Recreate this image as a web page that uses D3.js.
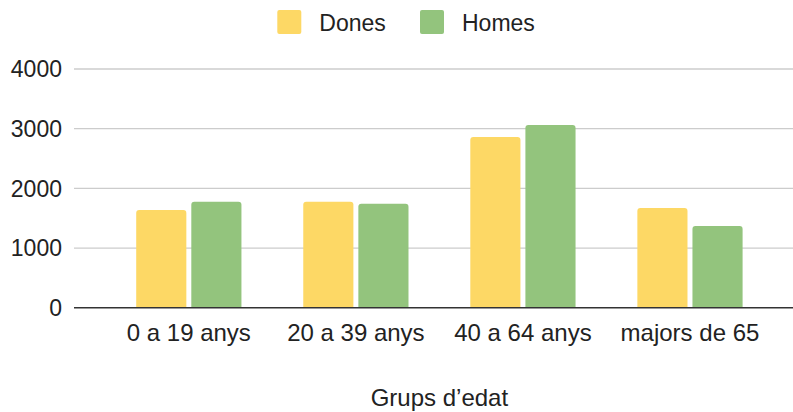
<!DOCTYPE html>
<html>
<head>
<meta charset="utf-8">
<script src="https://cdn.jsdelivr.net/npm/d3@7.9.0/dist/d3.min.js"></script>
<style>
  body { margin: 0; background: #fff; }
  svg { display: block; font-family: "Liberation Sans", Arial, sans-serif; }
</style>
</head>
<body>
<div id="chart"></div>
<script>
// values
const groups = ['0 a 19 anys', '20 a 39 anys', '40 a 64 anys', 'majors de 65'];
const series = ['Dones', 'Homes'];
const dones = [1637, 1776, 2859, 1670];
const homes = [1776, 1742, 3060, 1368];
const yTickValues = [0, 1000, 2000, 3000, 4000];
const colors = ['#fdd865', '#93c47d'];
const xTitle = 'Grups d\u2019edat';

const width = 793;
const height = 412;

const svg = d3
  .select('#chart')
  .append('svg')
  .attr('width', width)
  .attr('height', height);

const plot = { left: 74, right: 793, top: 69, bottom: 307.7 };

const xScale = d3.scaleBand().domain(groups).range([105.3, 773.5]).padding(0);
const groupWidth = xScale.bandwidth() * 0.63;
const inner = d3.scaleBand().domain(series).range([0, groupWidth]).paddingInner(0.09);
const yScale = d3.scaleLinear().domain([0, 4000]).range([plot.bottom, plot.top]);

// gridlines
const grid = svg.append('g').attr('class', 'gridlines');
grid.selectAll('line')
  .data(yTickValues.filter(d => d > 0))
  .join('line')
  .attr('x1', plot.left)
  .attr('x2', plot.right)
  .attr('y1', d => yScale(d))
  .attr('y2', d => yScale(d))
  .attr('stroke', '#cccccc')
  .attr('stroke-width', 1.3);

// y axis labels
const yAxis = d3.axisLeft(yScale)
  .tickValues(yTickValues)
  .tickFormat(d3.format('d'))
  .tickSize(0)
  .tickPadding(12);
svg.append('g')
  .attr('transform', `translate(${plot.left}, 0)`)
  .call(yAxis)
  .call(g => g.select('.domain').remove())
  .selectAll('text')
  .attr('font-size', 23)
  .attr('font-family', '"Liberation Sans", Arial, sans-serif')
  .attr('fill', '#222')
  .attr('dy', '0.34em');

// bars
const rows = groups.map((g, i) => ({ group: g, values: [dones[i], homes[i]] }));
const r = 3;
function barPath(x, y, w, h) {
  return `M${x},${y + h}V${y + r}Q${x},${y} ${x + r},${y}H${x + w - r}Q${x + w},${y} ${x + w},${y + r}V${y + h}Z`;
}

svg.append('g')
  .selectAll('g')
  .data(rows)
  .join('g')
  .attr('transform', d => `translate(${xScale(d.group) + (xScale.bandwidth() - groupWidth) / 2}, 0)`)
  .selectAll('path')
  .data(d => d.values.map((v, j) => ({ key: series[j], value: v, j })))
  .join('path')
  .attr('d', d => barPath(inner(d.key), yScale(d.value), inner.bandwidth(), yScale(0) - yScale(d.value)))
  .attr('fill', d => colors[d.j]);

// baseline
svg.append('line')
  .attr('x1', plot.left)
  .attr('x2', plot.right)
  .attr('y1', yScale(0))
  .attr('y2', yScale(0))
  .attr('stroke', '#333')
  .attr('stroke-width', 1.6);

// x axis labels
const xAxis = d3.axisBottom(xScale).tickSize(0).tickPadding(16);
svg.append('g')
  .attr('transform', `translate(0, ${yScale(0)})`)
  .call(xAxis)
  .call(g => g.select('.domain').remove())
  .selectAll('text')
  .attr('font-size', 24)
  .attr('font-family', '"Liberation Sans", Arial, sans-serif')
  .attr('fill', '#222');

// x axis title
svg.append('text')
  .attr('x', (xScale.range()[0] + xScale.range()[1]) / 2)
  .attr('y', 406)
  .attr('text-anchor', 'middle')
  .attr('font-size', 24)
  .attr('fill', '#222')
  .text(xTitle);

// legend
const legendX = [277.3, 420];
const legend = svg.append('g')
  .selectAll('g')
  .data(series)
  .join('g')
  .attr('transform', (d, i) => `translate(${legendX[i]}, 10)`);

legend.append('rect')
  .attr('width', 24)
  .attr('height', 24)
  .attr('rx', 2)
  .attr('fill', (d, i) => colors[i]);

legend.append('text')
  .attr('x', 42)
  .attr('y', 20.5)
  .attr('font-size', 23)
  .attr('fill', '#222')
  .text(d => d);
</script>
</body>
</html>
